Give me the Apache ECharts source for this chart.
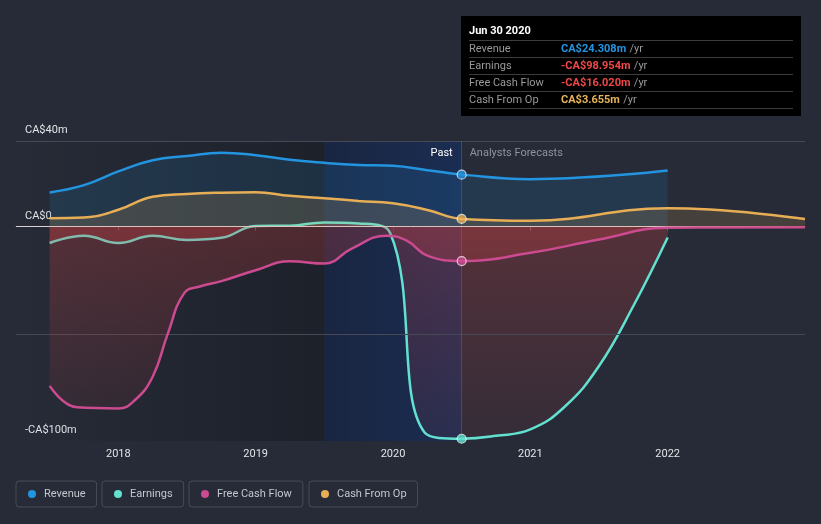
<!DOCTYPE html>
<html><head><meta charset="utf-8">
<script src="https://cdn.jsdelivr.net/npm/echarts@6/dist/echarts.min.js"></script>
<style>html,body{margin:0;padding:0;background:#262b37;}#c{width:821px;height:524px;}</style>
</head><body><div id="c"></div>
<script>
// ---- data ----
const seriesNames = ['Revenue', 'Earnings', 'Free Cash Flow', 'Cash From Op'];
const yearTicks = [2018, 2019, 2020, 2021, 2022];
const yLabelValues = [-100, 0, 40];
const gridValues = [40, -50];

const revenueX = [2017.5, 2017.75, 2018.0, 2018.25, 2018.5, 2018.75, 2019.0, 2019.25, 2019.5, 2019.75, 2020.0, 2020.25, 2020.5, 2021.0, 2022.0];
const revenueY = [16.0, 19.4, 25.8, 31.0, 33.0, 34.5, 33.4, 31.2, 29.8, 28.8, 28.4, 26.4, 24.308, 22.2, 26.2];

const earningsX = [2017.5, 2017.75, 2018.0, 2018.25, 2018.5, 2018.75, 2019.0, 2019.25, 2019.5, 2019.75, 2019.98, 2020.23, 2020.5, 2020.75, 2021.0, 2021.25, 2021.5, 2021.75, 2022.0];
const earningsY = [-7.6, -4.2, -7.6, -4.2, -6.2, -5.2, 0.3, 0.5, 2.0, 1.5, -3.0, -96.0, -98.954, -97.6, -94.6, -84.0, -65.0, -37.0, -5.0];

const fcfX = [2017.5, 2017.7, 2018.0, 2018.12, 2018.25, 2018.36, 2018.48, 2018.6, 2018.75, 2019.0, 2019.25, 2019.5, 2019.7, 2019.95, 2020.1, 2020.25, 2020.5, 2021.0, 2021.5, 2022.0, 2023.0];
const fcfY = [-74.3, -84.3, -84.8, -81.0, -70.0, -50.0, -31.0, -27.8, -25.4, -20.3, -16.1, -17.2, -10.2, -4.2, -6.5, -13.5, -16.02, -12.2, -6.0, -0.5, -0.3];

const cfoX = [2017.5, 2017.75, 2018.0, 2018.25, 2018.5, 2018.75, 2019.0, 2019.25, 2019.5, 2019.75, 2020.0, 2020.25, 2020.5, 2021.0, 2022.0, 2023.0];
const cfoY = [4.0, 4.3, 7.9, 14.0, 15.3, 15.9, 16.1, 14.4, 13.3, 12.0, 10.9, 7.8, 3.655, 2.8, 8.6, 3.6];

const nowX = 2020.5;
const lastYearStartX = 2019.5;
const xMin = 2017.255, xMax = 2023.0;
const yMin = -100, yMax = 40;

const tipDate = 'Jun 30 2020';
const tipValues = [24.308, -98.954, -16.020, 3.655];

// ---- styles ----
const lineColors = ['#2394df', '#62e1d0', '#cc4a90', '#e8ae56'];
const posFill = ['rgba(35,148,223,0.20)', null, null, 'rgba(232,174,86,0.24)'];
const negFill = {type: 'linear', x: 0, y: 0, x2: 0, y2: 1, colorStops: [
  {offset: 0, color: 'rgba(228,66,66,0.36)'}, {offset: 1, color: 'rgba(228,66,66,0.11)'}]};
const tipColors = (v, i) => i === 0 ? '#2394df' : (i === 3 ? '#e8b45a' : '#f04848');

const xs = [revenueX, earningsX, fcfX, cfoX];
const ys = [revenueY, earningsY, fcfY, cfoY];

const fmtMoney = v => (v < 0 ? '-' : '') + 'CA$' + Math.abs(v).toFixed(3) + 'm';

const series = [];
series.push({
  type: 'line', name: '_helper', data: [[nowX, yMax]], symbol: 'none', lineStyle: {opacity: 0}, z: 1, silent: true,
  markArea: {silent: true, data: [
    [{xAxis: xMin, itemStyle: {color: {type: 'linear', x: 0, y: 0, x2: 1, y2: 0, colorStops: [
      {offset: 0, color: 'rgba(0,0,0,0)'}, {offset: 1, color: 'rgba(0,0,0,0.24)'}]}}}, {xAxis: lastYearStartX}],
    [{xAxis: lastYearStartX, itemStyle: {color: {type: 'linear', x: 0, y: 0, x2: 1, y2: 0, colorStops: [
      {offset: 0, color: 'rgba(8,30,80,0.42)'}, {offset: 1, color: 'rgba(12,48,115,0.45)'}]}}}, {xAxis: nowX}]
  ]},
  markLine: {silent: true, symbol: 'none', label: {show: false}, data: [
    ...gridValues.map(v => ({yAxis: v, lineStyle: {color: '#444955', width: 1, type: 'solid'}})),
    {xAxis: nowX, lineStyle: {color: 'rgba(60,105,180,0.55)', width: 1, type: 'solid'}}
  ]},
  markPoint: {silent: true, symbol: 'circle', symbolSize: 0, data: [
    {coord: [nowX, yMax], label: {show: true, formatter: 'Past', position: 'left', distance: 9, offset: [0, 12], color: '#ffffff', fontSize: 11, fontFamily: 'Roboto'}},
    {coord: [nowX, yMax], label: {show: true, formatter: 'Analysts Forecasts', position: 'right', distance: 8, offset: [0, 12], color: '#8e939c', fontSize: 11, fontFamily: 'Roboto'}}
  ]}
});

seriesNames.forEach((name, i) => {
  series.push({
    type: 'line', name, data: xs[i].map((x, k) => [x, ys[i][k]]),
    smooth: 0.45, symbol: 'none', showSymbol: false,
    lineStyle: {color: lineColors[i], width: 2.5}, itemStyle: {color: lineColors[i]},
    areaStyle: {color: posFill[i] || negFill}, z: 3 + i
  });
});
series.push({
  type: 'line', name: '_zero', data: [], z: 8, silent: true,
  markLine: {silent: true, symbol: 'none', label: {show: false}, data: [{yAxis: 0, lineStyle: {color: '#d8d2d6', width: 1, type: 'solid'}}]}
});
seriesNames.forEach((name, i) => {
  const k = xs[i].indexOf(nowX);
  series.push({
    type: 'scatter', name: '_m' + i, data: [[xs[i][k], ys[i][k]]], symbol: 'circle', symbolSize: 9, z: 12, silent: true,
    itemStyle: {color: lineColors[i], borderColor: 'rgba(255,255,255,0.85)', borderWidth: 1.2}
  });
});

const legendLefts = [16, 102, 189, 309];
const legend = seriesNames.map((n, i) => ({
  data: [{name: n, icon: 'circle'}], left: legendLefts[i], top: 481, itemWidth: 8, itemHeight: 8,
  padding: [6, 11, 6, 12], borderColor: '#474c58', borderWidth: 1, borderRadius: 3, selectedMode: false,
  textStyle: {color: '#c3c7ce', fontSize: 11, fontFamily: 'Roboto', lineHeight: 14, padding: [0, 0, 0, 3]}
}));

const graphic = [
  {type: 'rect', shape: {x: 461, y: 16, width: 340, height: 100}, style: {fill: '#000'}, z: 100},
  {type: 'text', x: 469, y: 31, z: 101, style: {text: tipDate, fill: '#fff', font: 'bold 11px Roboto', verticalAlign: 'middle'}}
];
[40.5, 57.5, 74.5, 91.5, 108.5].forEach(y => graphic.push(
  {type: 'line', shape: {x1: 469, y1: y, x2: 793, y2: y}, style: {stroke: '#3c3c3c', lineWidth: 1}, z: 101}));
seriesNames.forEach((lab, i) => {
  const y = 49 + i * 17;
  graphic.push({type: 'text', x: 469, y, z: 101, style: {text: lab, fill: '#9a9a9a', font: '11px Roboto', verticalAlign: 'middle'}});
  graphic.push({type: 'text', x: 561, y, z: 101, style: {
    text: '{v|' + fmtMoney(tipValues[i]) + '} {u|/yr}', verticalAlign: 'middle',
    rich: {v: {fill: tipColors(tipValues[i], i), font: 'bold 11px Roboto'}, u: {fill: '#9a9a9a', font: '11px Roboto'}}
  }});
});

const chart = echarts.init(document.getElementById('c'));
chart.setOption({
  animation: false,
  backgroundColor: '#262b37',
  textStyle: {fontFamily: 'Roboto'},
  grid: {left: 16, right: 16, top: 141, bottom: 83},
  xAxis: {
    type: 'value', min: xMin, max: xMax,
    axisLine: {show: true, lineStyle: {color: '#5f6470', width: 1}},
    axisTick: {show: true, customValues: yearTicks, length: 4, lineStyle: {color: '#5f6470'}},
    axisLabel: {customValues: yearTicks, color: '#e2e4e8', fontSize: 11, margin: 8, formatter: v => String(Math.round(v))},
    splitLine: {show: false}
  },
  yAxis: {
    type: 'value', min: yMin, max: yMax,
    axisLine: {show: false}, axisTick: {show: false}, splitLine: {show: false},
    axisLabel: {customValues: yLabelValues, inside: true, margin: 9, color: '#e2e4e8', fontSize: 11,
      verticalAlign: 'bottom', padding: [0, 0, 5, 0],
      formatter: v => v === 0 ? 'CA$0' : (v < 0 ? '-' : '') + 'CA$' + Math.abs(v) + 'm'}
  },
  legend,
  graphic,
  series
});
</script></body></html>
